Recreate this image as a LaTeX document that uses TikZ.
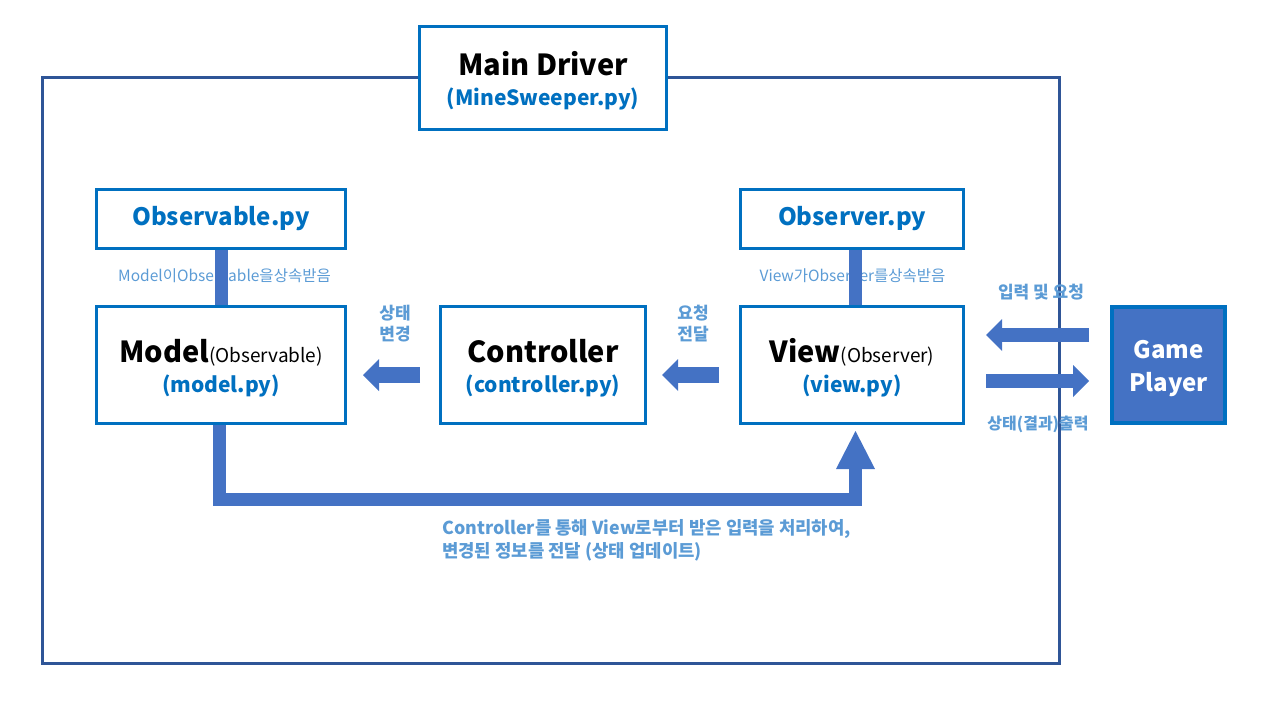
\documentclass[tikz,border=0pt]{standalone}
\usepackage{fontspec}
\usepackage{graphicx}
\setmainfont{Noto Sans CJK KR}
\usetikzlibrary{positioning, arrows.meta, calc}
\definecolor{boxblue}{HTML}{0070C0}
\definecolor{framenavy}{HTML}{2F5597}
\definecolor{flowblue}{HTML}{4472C4}
\definecolor{noteblue}{HTML}{5B9BD5}
\newcommand{\boxtitle}[1]{{\fontsize{29}{30}\selectfont\bfseries\rule{0pt}{30pt}#1}}
\newcommand{\roleof}[1]{{\fontsize{19}{22}\selectfont #1}}
\newcommand{\pyfile}[1]{{\fontsize{21}{30}\selectfont\bfseries\color{boxblue}#1}}
\tikzset{
    modbox/.style={
        draw=boxblue, line width=3pt, fill=white,
        align=center, inner sep=0pt,
        font=\fontsize{21}{30}\selectfont
    },
    filebox/.style={modbox, minimum height=59pt},
    bigbox/.style={modbox, minimum height=117pt},
    playerbox/.style={
        draw=boxblue, line width=4pt, fill=flowblue,
        align=center, inner sep=0pt, text=white,
        minimum width=113pt, minimum height=116pt,
        font=\fontsize{24}{33}\selectfont\bfseries
    },
    frameline/.style={draw=framenavy, line width=3pt},
    inherit/.style={line width=13pt, draw=flowblue},
    blockarrow/.style={
        -{Triangle[length=16pt, width=32pt, line width=0pt]},
        line width=16pt, draw=flowblue
    },
    sidearrow/.style={blockarrow, line width=14pt},
    updatearrow/.style={
        -{Triangle[length=38pt, width=39pt, line width=0pt]},
        line width=13pt, draw=flowblue
    },
    smallnote/.style={
        text=noteblue, inner sep=1pt,
        font=\fontsize{15.5}{18}\selectfont
    },
    flownote/.style={
        text=noteblue, inner sep=1pt, align=center,
        font=\fontsize{17}{21}\selectfont\bfseries
    },
}

\begin{document}
\begin{tikzpicture}[x=1pt, y=-1pt]
\useasboundingbox (0,0) rectangle (1280,720);

% ---- outer frame and driver ----
\draw[frameline] (42.5,77.5) rectangle (1059.5,663.5);
\node[modbox, minimum width=247pt, minimum height=103pt] (main-drv) at (543,78)
    {\boxtitle{Main Driver}\\\pyfile{(MineSweeper.py)}};

% ---- MVC boxes ----
\node[bigbox, minimum width=249pt] (model) at (221,365)
    {\boxtitle{Model}\roleof{(Observable)}\\\pyfile{(model.py)}};
\node[bigbox, minimum width=205pt, right=92pt of model] (ctrl)
    {\boxtitle{Controller}\\\pyfile{(controller.py)}};
\node[bigbox, minimum width=223pt, right=92pt of ctrl] (view)
    {\boxtitle{View}\roleof{(Observer)}\\\pyfile{(view.py)}};
\node[playerbox, right=145pt of view] (player)
    {\rule{0pt}{26pt}Game\\Player};

% ---- base classes ----
\node[filebox, minimum width=249pt, above=55pt of model] (obs-able)
    {\fontsize{24}{28}\selectfont\bfseries\color{boxblue}Observable.py};
\node[filebox, minimum width=223pt, above=55pt of view] (obs-ver)
    {\fontsize{24}{28}\selectfont\bfseries\color{boxblue}Observer.py};

% ---- notes ----
\node[smallnote] (able-note) at (224.5,276) {Model이Observable을상속받음};
\node[smallnote] (ver-note) at (852.5,276) {View가Observer를상속받음};
\node[flownote] (chg-note) at (395,324) {상태\\변경};
\node[flownote] (req-note) at (693,324) {요청\\전달};
\node[flownote] (in-note) at (1041,292) {입력 및 요청};
\node[flownote, font=\fontsize{16}{21}\selectfont\bfseries] (out-note) at (1038,424) {상태(결과)출력};
\node[flownote, align=left, anchor=north west,
      font=\fontsize{17.8}{23}\selectfont\bfseries] (upd-note) at (441,518)
    {Controller를 통해 View로부터 받은 입력을 처리하여,\\변경된 정보를 전달 (상태 업데이트)};

% ---- connectors ----
\draw[inherit] ([xshift=0.5pt]obs-able.south) -- ([xshift=0.5pt]model.north);
\draw[inherit] ([xshift=3.5pt]obs-ver.south) -- ([xshift=3.5pt]view.north);
\draw[blockarrow] ($(ctrl.west)+(-19,10)$) -- ($(model.east)+(16,10)$);
\draw[blockarrow] ($(view.west)+(-20,10)$) -- ($(ctrl.east)+(15,10)$);
\draw[sidearrow] ($(player.west)+(-21,-30)$) -- ($(view.east)+(21,-30)$);
\draw[sidearrow] ($(view.east)+(21,16)$) -- ($(player.west)+(-21,16)$);
\draw[updatearrow] ([xshift=-1.5pt]model.south) |- ($(view.south)+(3.5,74.5)$)
    -- ($(view.south)+(3.5,6)$);

\end{tikzpicture}
\end{document}
